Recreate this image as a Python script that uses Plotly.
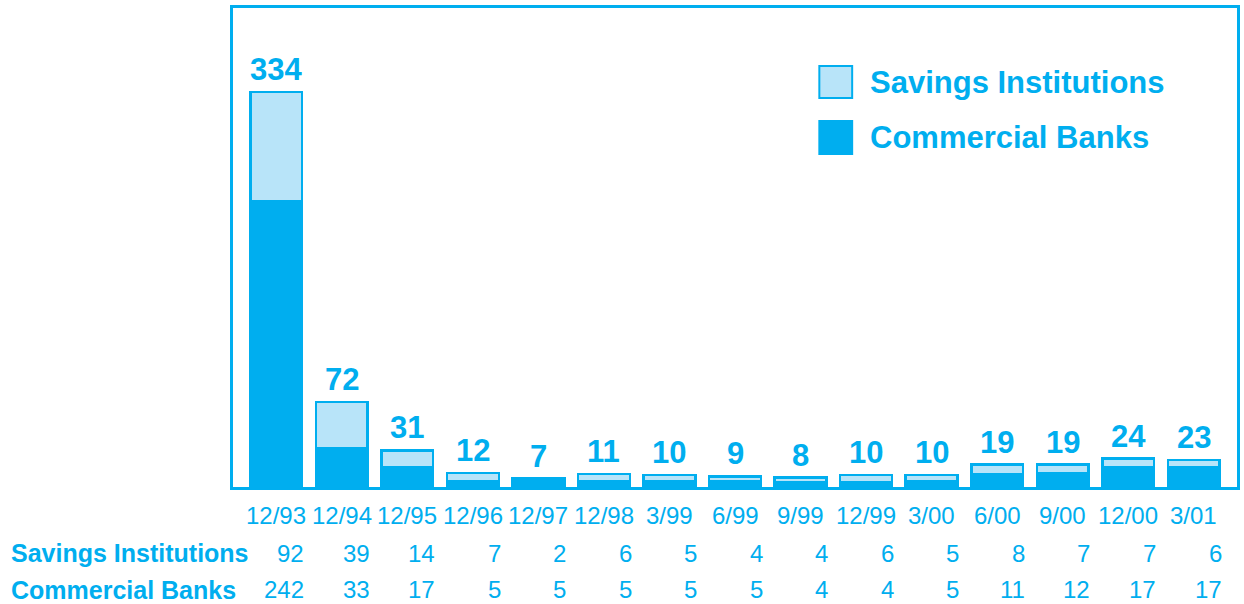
import plotly.graph_objects as go

# quarter-end dates and counts
periods = ['12/93', '12/94', '12/95', '12/96', '12/97', '12/98', '3/99', '6/99',
           '9/99', '12/99', '3/00', '6/00', '9/00', '12/00', '3/01']
savings = [92, 39, 14, 7, 2, 6, 5, 4, 4, 6, 5, 8, 7, 7, 6]
commercial = [242, 33, 17, 5, 5, 5, 5, 5, 4, 4, 5, 11, 12, 17, 17]
totals = [334, 72, 31, 12, 7, 11, 10, 9, 8, 10, 10, 19, 19, 24, 23]

cyan = '#00AEEF'
light = '#B8E4F9'
font = 'Liberation Sans, Arial, sans-serif'
idx = list(range(len(periods)))

fig = go.Figure()
fig.add_trace(go.Bar(x=idx, y=commercial, name='Commercial Banks',
                     marker=dict(color=cyan, line=dict(color=cyan, width=2.5)),
                     width=0.79))
fig.add_trace(go.Bar(x=idx, y=savings, name='Savings Institutions',
                     marker=dict(color=light, line=dict(color=cyan, width=2.5)),
                     width=0.79))

annotations = []
# totals above the bars
for i, t in zip(idx, totals):
    annotations.append(dict(x=i, y=t, text='<b>%d</b>' % t, showarrow=False,
                            yanchor='bottom', yshift=3, xref='x', yref='y',
                            font=dict(size=31, color=cyan, family=font)))

# table beneath the chart
for i, p in zip(idx, periods):
    annotations.append(dict(x=i, y=-0.0605, text=p, showarrow=False,
                            xref='x', yref='paper', yanchor='middle',
                            font=dict(size=24, color=cyan, family=font)))
for row, vals, yy in [('Savings Institutions', savings, -0.138),
                      ('Commercial Banks', commercial, -0.215)]:
    annotations.append(dict(x=-0.2235, y=yy, text='<b>%s</b>' % row, showarrow=False,
                            xref='paper', yref='paper', xanchor='left', yanchor='middle',
                            font=dict(size=25, color=cyan, family=font)))
    for i, v in zip(idx, vals):
        annotations.append(dict(x=i + 0.455, y=yy, text=str(v), showarrow=False,
                                xref='x', yref='paper', xanchor='right', yanchor='middle',
                                font=dict(size=24, color=cyan, family=font)))

# legend drawn by hand so the swatches can be large
legend_items = [('Savings Institutions', light, 0.879, 0.812),
                ('Commercial Banks', cyan, 0.764, 0.695)]
shapes = []
for label, col, y1, y0 in legend_items:
    shapes.append(dict(type='rect', xref='paper', yref='paper', x0=0.584, x1=0.6167,
                       y0=y0, y1=y1, fillcolor=col, line=dict(color=cyan, width=2)))
    annotations.append(dict(x=0.6326, y=(y0 + y1) / 2, text='<b>%s</b>' % label,
                            showarrow=False, xref='paper', yref='paper',
                            xanchor='left', yanchor='middle',
                            font=dict(size=31, color=cyan, family=font)))

fig.update_layout(barmode='stack',
                  width=1244, height=604,
                  margin=dict(l=233, r=4, t=8, b=117),
                  paper_bgcolor='white', plot_bgcolor='white',
                  showlegend=False,
                  annotations=annotations, shapes=shapes,
                  xaxis=dict(range=[-0.66, 14.66], showticklabels=False, ticks='',
                             showgrid=False, zeroline=False,
                             showline=True, mirror=True, linecolor=cyan, linewidth=3),
                  yaxis=dict(range=[0, 405], showticklabels=False, ticks='',
                             showgrid=False, zeroline=False,
                             showline=True, mirror=True, linecolor=cyan, linewidth=3))

fig.write_html("out.html", config={'displayModeBar': False})

# drop the browser's default page margin so the figure fills the window
with open("out.html") as f:
    html = f.read()
html = html.replace("<body>", '<body style="margin:0">', 1)
with open("out.html", "w") as f:
    f.write(html)
